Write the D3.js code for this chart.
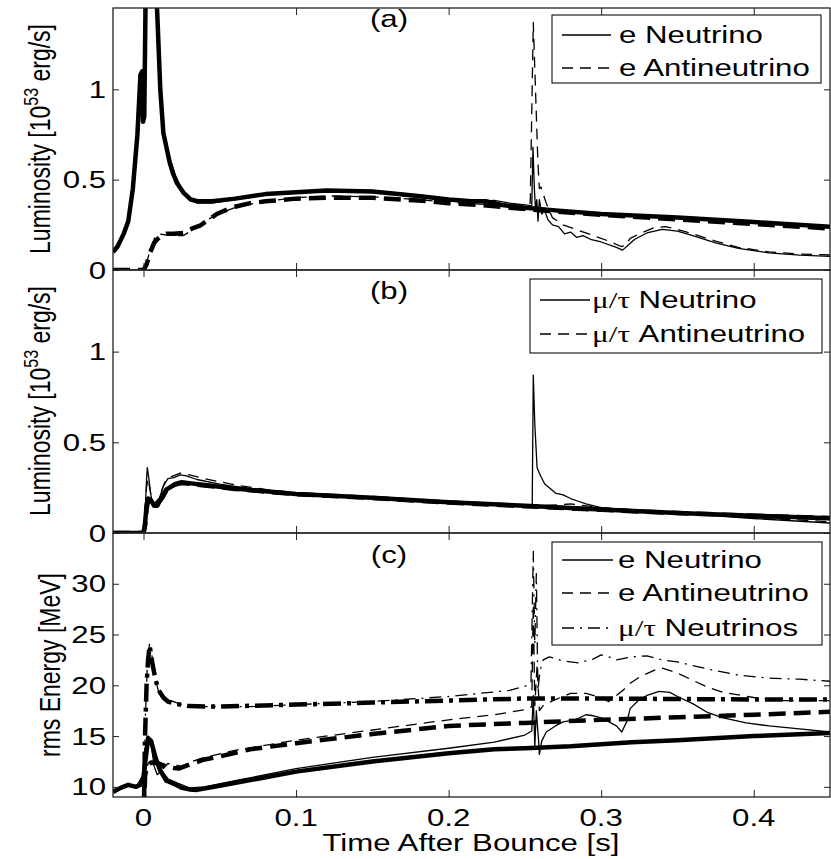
<!DOCTYPE html>
<html><head><meta charset="utf-8">
<script src="https://cdn.jsdelivr.net/npm/d3@7"></script>
<style>body{margin:0;background:#fff}svg{display:block}</style>
</head><body>
<svg id="chart" width="831" height="859"></svg>
<script>
// ---------------- DATA (time [s], value) ----------------
const xTicks = [0, 0.1, 0.2, 0.3, 0.4];
const xTickLabels = ["0", "0.1", "0.2", "0.3", "0.4"];
const lumTicks = [0, 0.5, 1];
const lumTickLabels = ["0", "0.5", "1"];
const eTicks = [10, 15, 20, 25, 30];
const eTickLabels = ["10", "15", "20", "25", "30"];

// Panel (a): electron-flavour luminosity [1e53 erg/s]
const aNuThick = [[-0.02,0.10],[-0.017,0.13],[-0.013,0.2],[-0.01,0.27],[-0.007,0.45],[-0.004,0.75],[-0.002,1.08],[-0.0008,1.1],[-0.0003,0.82],[0.0005,0.85],[0.0015,1.6],[0.003,2.6],[0.005,2.4],[0.0075,1.7],[0.009,1.42],[0.011,1.0],[0.013,0.76],[0.015,0.68],[0.017,0.6],[0.0195,0.53],[0.022,0.48],[0.026,0.43],[0.031,0.39],[0.036,0.38],[0.045,0.38],[0.06,0.395],[0.08,0.42],[0.1,0.43],[0.12,0.44],[0.15,0.435],[0.18,0.41],[0.2,0.39],[0.215,0.38],[0.225,0.38],[0.235,0.36],[0.25,0.345],[0.27,0.33],[0.3,0.31],[0.35,0.29],[0.4,0.265],[0.45,0.24]];
const aNuThin = [[-0.02,0.10],[-0.013,0.2],[-0.01,0.27],[-0.007,0.45],[-0.004,0.75],[-0.002,1.07],[-0.0005,0.85],[0.0015,1.7],[0.003,2.6],[0.005,2.4],[0.0075,1.75],[0.009,1.45],[0.011,1.02],[0.013,0.78],[0.015,0.7],[0.018,0.6],[0.021,0.52],[0.025,0.45],[0.03,0.39],[0.035,0.37],[0.045,0.37],[0.06,0.39],[0.08,0.415],[0.1,0.435],[0.12,0.445],[0.15,0.44],[0.18,0.415],[0.2,0.395],[0.22,0.38],[0.23,0.385],[0.24,0.37],[0.25,0.36],[0.2545,0.355],[0.2553,0.68],[0.2562,0.45],[0.257,0.33],[0.2578,0.39],[0.2586,0.27],[0.2595,0.39],[0.261,0.31],[0.263,0.33],[0.265,0.28],[0.268,0.25],[0.272,0.24],[0.276,0.2],[0.28,0.21],[0.284,0.18],[0.288,0.19],[0.293,0.17],[0.3,0.155],[0.31,0.125],[0.314,0.11],[0.318,0.14],[0.322,0.17],[0.33,0.205],[0.34,0.225],[0.35,0.215],[0.36,0.19],[0.375,0.15],[0.39,0.12],[0.41,0.095],[0.43,0.082],[0.45,0.075]];
const aAnuThick = [[-0.02,0],[0,0],[0.002,0.03],[0.004,0.09],[0.007,0.15],[0.009,0.17],[0.012,0.19],[0.015,0.2],[0.02,0.2],[0.026,0.205],[0.032,0.23],[0.037,0.245],[0.043,0.28],[0.048,0.31],[0.055,0.335],[0.06,0.35],[0.07,0.37],[0.08,0.38],[0.1,0.395],[0.12,0.40],[0.15,0.40],[0.18,0.385],[0.2,0.37],[0.22,0.36],[0.24,0.345],[0.26,0.33],[0.3,0.305],[0.35,0.28],[0.4,0.255],[0.45,0.23]];
const aAnuThin = [[-0.02,0],[0,0],[0.002,0.04],[0.005,0.13],[0.008,0.19],[0.01,0.2],[0.014,0.195],[0.02,0.19],[0.026,0.19],[0.032,0.22],[0.04,0.27],[0.05,0.315],[0.06,0.345],[0.07,0.365],[0.08,0.38],[0.1,0.40],[0.12,0.41],[0.15,0.405],[0.18,0.39],[0.2,0.375],[0.22,0.365],[0.24,0.36],[0.25,0.36],[0.2535,0.37],[0.2555,1.37],[0.2585,0.6],[0.2595,0.45],[0.2605,0.46],[0.262,0.42],[0.264,0.37],[0.268,0.29],[0.275,0.25],[0.285,0.22],[0.295,0.19],[0.305,0.16],[0.313,0.13],[0.316,0.135],[0.319,0.175],[0.325,0.2],[0.335,0.235],[0.342,0.24],[0.35,0.225],[0.36,0.2],[0.375,0.16],[0.39,0.125],[0.41,0.1],[0.43,0.088],[0.45,0.083]];

// Panel (b): mu/tau luminosity
const bNuThick = [[-0.02,0],[0,0],[0.001,0.05],[0.002,0.15],[0.003,0.19],[0.005,0.18],[0.007,0.15],[0.009,0.15],[0.012,0.2],[0.015,0.24],[0.018,0.255],[0.021,0.27],[0.025,0.28],[0.03,0.275],[0.04,0.265],[0.06,0.245],[0.08,0.23],[0.1,0.215],[0.15,0.195],[0.2,0.17],[0.25,0.15],[0.3,0.13],[0.35,0.11],[0.4,0.095],[0.45,0.082]];
const bAnuThick = [[-0.02,0],[0,0],[0.001,0.04],[0.002,0.13],[0.003,0.18],[0.005,0.17],[0.008,0.15],[0.012,0.19],[0.015,0.235],[0.02,0.265],[0.025,0.275],[0.03,0.272],[0.04,0.262],[0.06,0.243],[0.08,0.228],[0.1,0.214],[0.15,0.193],[0.2,0.168],[0.25,0.148],[0.3,0.128],[0.35,0.11],[0.4,0.095],[0.45,0.083]];
const bNuThin = [[-0.02,0],[0,0],[0.001,0.1],[0.002,0.3],[0.0025,0.36],[0.0035,0.3],[0.005,0.2],[0.006,0.16],[0.008,0.145],[0.01,0.18],[0.013,0.26],[0.016,0.3],[0.02,0.305],[0.024,0.32],[0.028,0.315],[0.035,0.295],[0.05,0.27],[0.07,0.245],[0.1,0.22],[0.15,0.195],[0.2,0.17],[0.25,0.15],[0.2548,0.148],[0.2555,0.87],[0.2565,0.6],[0.258,0.36],[0.26,0.32],[0.263,0.27],[0.266,0.25],[0.27,0.22],[0.275,0.21],[0.28,0.19],[0.285,0.175],[0.29,0.16],[0.3,0.14],[0.31,0.128],[0.33,0.12],[0.35,0.11],[0.4,0.08],[0.45,0.055]];
const bAnuThin = [[-0.02,0],[0,0],[0.002,0.25],[0.003,0.3],[0.005,0.2],[0.007,0.16],[0.01,0.19],[0.014,0.28],[0.018,0.31],[0.024,0.33],[0.03,0.32],[0.04,0.3],[0.06,0.265],[0.08,0.24],[0.1,0.222],[0.15,0.197],[0.2,0.172],[0.25,0.152],[0.26,0.15],[0.28,0.16],[0.3,0.14],[0.35,0.112],[0.4,0.085],[0.45,0.062]];

// Panel (c): rms energy [MeV]
const cNuThick = [[-0.02,9.5],[-0.015,9.9],[-0.01,10.2],[-0.005,10.0],[-0.002,10.2],[0,11],[0.002,13.5],[0.003,14.8],[0.005,14.5],[0.008,12.8],[0.011,11.6],[0.015,10.6],[0.02,10.3],[0.025,9.9],[0.03,9.75],[0.035,9.7],[0.05,10.1],[0.075,10.8],[0.1,11.5],[0.15,12.5],[0.2,13.3],[0.23,13.7],[0.25,13.8],[0.28,14.0],[0.3,14.2],[0.32,14.4],[0.35,14.6],[0.4,15.0],[0.45,15.3]];
const cNuThin = [[-0.02,9.6],[-0.01,10.2],[-0.005,10.0],[0,11.2],[0.002,14],[0.003,15.0],[0.005,14.2],[0.007,12.0],[0.009,11.2],[0.012,11.6],[0.016,10.8],[0.022,10.4],[0.03,9.9],[0.04,10.0],[0.06,10.6],[0.1,11.8],[0.15,12.9],[0.2,13.8],[0.23,14.4],[0.25,15.1],[0.2545,15.5],[0.2555,19],[0.2565,14],[0.2575,17.5],[0.259,14.5],[0.2595,13.2],[0.261,14.5],[0.264,15.4],[0.27,16.0],[0.275,16.4],[0.283,16.6],[0.29,17.1],[0.295,17.0],[0.3,16.8],[0.31,16.0],[0.3135,15.4],[0.317,16.5],[0.319,17.7],[0.325,18.6],[0.33,19.0],[0.338,19.4],[0.345,19.3],[0.35,18.9],[0.36,18.2],[0.37,17.3],[0.38,16.8],[0.395,16.3],[0.41,16.0],[0.43,15.7],[0.45,15.4]];
const cAnuThick = [[0,5],[0.001,11],[0.002,12.0],[0.005,12.4],[0.01,12.3],[0.015,12.0],[0.02,11.85],[0.023,11.8],[0.03,12.2],[0.04,12.7],[0.05,13.0],[0.07,13.7],[0.1,14.3],[0.15,15.2],[0.2,16.0],[0.25,16.3],[0.3,16.6],[0.35,16.85],[0.4,17.1],[0.45,17.4]];
const cAnuThin = [[0,5],[0.001,11],[0.003,12.3],[0.006,12.5],[0.01,12.2],[0.013,11.8],[0.016,12.3],[0.02,12.2],[0.025,12.0],[0.03,12.4],[0.04,12.9],[0.06,13.6],[0.1,14.6],[0.15,15.6],[0.2,16.6],[0.23,17.1],[0.25,17.6],[0.2545,17.9],[0.2555,28],[0.2565,18],[0.258,22],[0.2595,17.5],[0.262,18.0],[0.27,18.6],[0.28,19.2],[0.29,19.2],[0.3,18.8],[0.305,18.4],[0.31,19.0],[0.315,19.6],[0.319,20.2],[0.325,20.8],[0.335,21.5],[0.34,21.7],[0.35,21.2],[0.36,20.5],[0.37,19.8],[0.38,19.3],[0.4,18.8],[0.42,18.5],[0.45,18.5]];
const cMuThick = [[0,5],[0.001,15],[0.002,20],[0.003,22.5],[0.004,23.9],[0.006,22],[0.008,20.5],[0.01,19.5],[0.013,18.8],[0.016,18.4],[0.02,18.2],[0.03,17.95],[0.05,17.9],[0.1,18.1],[0.15,18.3],[0.2,18.5],[0.25,18.7],[0.3,18.7],[0.35,18.65],[0.4,18.6],[0.45,18.6]];
const cMuThin = [[0,5],[0.001,16],[0.0025,22],[0.004,24.2],[0.006,22.5],[0.008,20.5],[0.01,19.3],[0.013,18.9],[0.018,18.5],[0.025,18.1],[0.04,17.9],[0.07,17.9],[0.1,18.1],[0.15,18.4],[0.2,18.9],[0.24,19.5],[0.252,20.0],[0.254,20.3],[0.2555,33.2],[0.2565,24],[0.2575,31],[0.2585,19.5],[0.26,21.5],[0.262,22.5],[0.266,22.8],[0.275,22.4],[0.285,22.2],[0.295,22.6],[0.3,23.0],[0.305,22.8],[0.31,22.5],[0.32,22.8],[0.33,22.9],[0.34,22.5],[0.35,22.3],[0.37,21.6],[0.39,21.0],[0.41,20.7],[0.43,20.6],[0.45,20.4]];

// ---------------- LAYOUT ----------------
const svg = d3.select("#chart");
const SX = 1.3;               // horizontal stretch of the original figure
const FONT = "'Liberation Sans', Arial, Helvetica, sans-serif";
const FS = 24;

const x = d3.scaleLinear().domain([-0.02, 0.45]).range([113, 830]);
const panels = [
  {id:"a", y: d3.scaleLinear().domain([0, 1.45]).range([270, 8]), ticks: lumTicks, labels: lumTickLabels, tag:"(a)", tagY: 27},
  {id:"b", y: d3.scaleLinear().domain([0, 1.45]).range([533, 270]), ticks: lumTicks, labels: lumTickLabels, tag:"(b)", tagY: 299},
  {id:"c", y: d3.scaleLinear().domain([9, 35]).range([797, 533]), ticks: eTicks, labels: eTickLabels, tag:"(c)", tagY: 563}
];

const styles = {
  thickSolid: {w: 4.5, dash: null},
  thinSolid: {w: 1.3, dash: null},
  thickDash: {w: 4.5, dash: "17,8"},
  thinDash: {w: 1.3, dash: "11,7"},
  thickDashDot: {w: 4.5, dash: "18,6,4,6"},
  thinDashDot: {w: 1.3, dash: "12,6,2,6"}
};

function stext(g, x0, y0, str, anchor, size) {
  return g.append("text")
    .attr("transform", `translate(${x0},${y0}) scale(${SX},1)`)
    .attr("text-anchor", anchor || "start")
    .attr("font-family", FONT).attr("font-size", size || FS)
    .attr("fill", "#000").text(str);
}

const defs = svg.append("defs");
panels.forEach(p => {
  const [y1, y0] = p.y.range();
  defs.append("clipPath").attr("id", "clip-" + p.id)
    .append("rect").attr("x", x.range()[0]).attr("y", y0)
    .attr("width", x.range()[1] - x.range()[0]).attr("height", y1 - y0);
});

const seriesByPanel = {
  a: [[aNuThick,"thickSolid"],[aAnuThick,"thickDash"],[aNuThin,"thinSolid"],[aAnuThin,"thinDash"]],
  b: [[bNuThick,"thickSolid"],[bAnuThick,"thickDash"],[bAnuThin,"thinDash"],[bNuThin,"thinSolid"]],
  c: [[cNuThick,"thickSolid"],[cAnuThick,"thickDash"],[cMuThick,"thickDashDot"],[cNuThin,"thinSolid"],[cAnuThin,"thinDash"],[cMuThin,"thinDashDot"]]
};

panels.forEach(p => {
  const g = svg.append("g");
  const line = d3.line().x(d => x(d[0])).y(d => p.y(d[1]));
  const lg = g.append("g").attr("clip-path", `url(#clip-${p.id})`);
  seriesByPanel[p.id].forEach(([data, st]) => {
    const s = styles[st];
    lg.append("path").datum(data).attr("d", line)
      .attr("fill", "none").attr("stroke", "#000")
      .attr("stroke-width", s.w)
      .attr("stroke-linejoin", "round")
      .attr("stroke-dasharray", s.dash);
  });
  const [yb, yt] = p.y.range();
  // axes with inward ticks
  const axB = g.append("g").attr("transform", `translate(0,${yb})`)
    .call(d3.axisBottom(x).tickValues(xTicks).tickSize(-7).tickFormat(""));
  const axT = g.append("g").attr("transform", `translate(0,${yt})`)
    .call(d3.axisTop(x).tickValues(xTicks).tickSize(-7).tickFormat(""));
  const axL = g.append("g").attr("transform", `translate(${x.range()[0]},0)`)
    .call(d3.axisLeft(p.y).tickValues(p.ticks).tickSize(-6).tickFormat(""));
  const axR = g.append("g").attr("transform", `translate(${x.range()[1]},0)`)
    .call(d3.axisRight(p.y).tickValues(p.ticks).tickSize(-6).tickFormat(""));
  [axB, axT, axL, axR].forEach(a => {
    a.select(".domain").remove();
    a.selectAll("line").attr("stroke", "#222").attr("stroke-width", 1);
  });
  g.append("rect").attr("x", x.range()[0]).attr("y", yt)
    .attr("width", x.range()[1] - x.range()[0]).attr("height", yb - yt)
    .attr("fill", "none").attr("stroke", "#222").attr("stroke-width", 1.3);
  // y tick labels
  p.ticks.forEach((t, i) => {
    stext(g, 106, p.y(t) + 8.5, p.labels[i], "end");
  });
  // panel tag
  stext(g, 389, p.tagY, p.tag, "middle");
});

// x tick labels and x label
xTicks.forEach((t, i) => stext(svg, x(t), 826, xTickLabels[i], "middle"));
stext(svg, 471, 851, "Time After Bounce [s]", "middle");

// y labels (rotated)
function ylab(xb, yc, build, size) {
  const t = svg.append("text")
    .attr("transform", `translate(${xb},${yc}) scale(${SX},1) rotate(-90)`)
    .attr("text-anchor", "middle")
    .attr("font-family", FONT).attr("font-size", size).attr("fill", "#000");
  build(t);
}
function lumLabel(t) {
  t.append("tspan").text("Luminosity [10");
  t.append("tspan").attr("dy", -9).attr("font-size", 16).text("53");
  t.append("tspan").attr("dy", 9).text(" erg/s]");
}
ylab(50/SX*SX, 139, lumLabel, 23);
ylab(50, 401, lumLabel, 23);
ylab(60, 665, t => t.text("rms Energy [MeV]"), 23);

// legends
function legend(box, rows) {
  const g = svg.append("g");
  g.append("rect").attr("x", box.x0).attr("y", box.y0)
    .attr("width", box.x1 - box.x0).attr("height", box.y1 - box.y0)
    .attr("fill", "#fff").attr("stroke", "#222").attr("stroke-width", 1.2);
  rows.forEach(r => {
    const s = styles[r.style];
    g.append("line").attr("x1", box.lx0).attr("x2", box.lx1)
      .attr("y1", r.base - 8).attr("y2", r.base - 8)
      .attr("stroke", "#000").attr("stroke-width", 1.3)
      .attr("stroke-dasharray", s.dash);
    const t = g.append("text")
      .attr("transform", `translate(${box.tx},${r.base}) scale(${SX},1)`)
      .attr("font-family", FONT).attr("font-size", FS).attr("fill", "#000");
    if (r.greek) {
      t.append("tspan").attr("font-family", "'Liberation Serif', 'Times New Roman', serif").text("μ/τ");
      t.append("tspan").text(" " + r.label);
    } else {
      t.text(r.label);
    }
  });
}
legend({x0:552, x1:821, y0:15, y1:83, lx0:562, lx1:611, tx:619},
  [{label:"e Neutrino", style:"thinSolid", base:43},
   {label:"e Antineutrino", style:"thinDash", base:76}]);
legend({x0:530, x1:822, y0:279, y1:353, lx0:540, lx1:590, tx:592},
  [{label:"Neutrino", greek:true, style:"thinSolid", base:308},
   {label:"Antineutrino", greek:true, style:"thinDash", base:342}]);
legend({x0:552, x1:822, y0:542, y1:645, lx0:562, lx1:613, tx:618},
  [{label:"e Neutrino", style:"thinSolid", base:568},
   {label:"e Antineutrino", style:"thinDash", base:601},
   {label:"Neutrinos", greek:true, style:"thinDashDot", base:636}]);
</script>
</body></html>
